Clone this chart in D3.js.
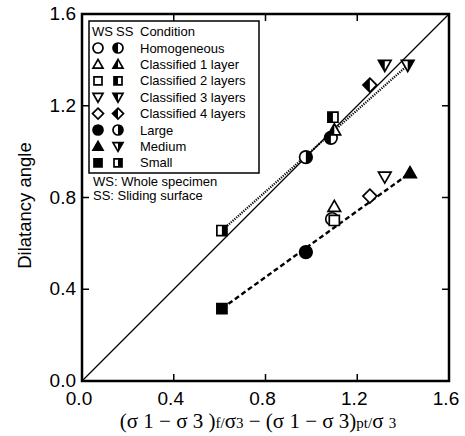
<html>
    <head>
       <script src="https://cdn.jsdelivr.net/npm/d3@7"></script>
       <style>
           body {
               margin:0;
               background-color:white
           }
           text {
               font-family:"Liberation Sans", Arial, sans-serif
           }
       </style>
    </head>
    <body>
        <svg id="Chart"></svg>
        <script>

            // conditions, in legend order
            let conditions = ["Homogeneous","Classified 1 layer","Classified 2 layers","Classified 3 layers",
                              "Classified 4 layers","Large","Medium","Small"]

            // WS = whole specimen
            let wsX = [1.09, 1.10, 1.10, 1.32, 1.255, 0.976, 1.43, 0.61]
            let wsY = [0.706, 0.76, 0.70, 0.89, 0.806, 0.562, 0.907, 0.316]

            // SS = sliding surface
            let ssX = [1.085, 1.10, 1.094, 1.32, 1.255, 0.976, 1.42, 0.61]
            let ssY = [1.06, 1.094, 1.15, 1.377, 1.29, 0.976, 1.377, 0.656]

            // fitted lines
            let fitWSX = [0.61, 1.43]
            let fitWSY = [0.316, 0.907]
            let fitSSX = [0.61, 1.42]
            let fitSSY = [0.656, 1.377]

            let ticks = [0.0, 0.4, 0.8, 1.2, 1.6]

            // marker shape and fill of each condition
            let wsShape = ["circle","triangle","square","triDown","diamond","circle","triangle","square"]
            let wsFill  = ["open","open","open","open","open","full","full","full"]
            let ssShape = ["circle","triangle","square","triDown","diamond","circle","triDown","square"]
            let ssFill  = ["left","left","left","left","left","right","right","right"]

            function getConfig() {
                let width = 465
                let height = 436
                let margin = { top: 14, bottom: 55, left: 82, right: 16 }

                let container = d3.select("#Chart")
                               .attr("width",width)
                               .attr("height",height)

                let xScale = d3.scaleLinear()
                            .domain([0,1.6])
                            .range([margin.left, width - margin.right])

                let yScale = d3.scaleLinear()
                            .domain([0,1.6])
                            .range([height - margin.bottom, margin.top])

                return { width, height, margin, container, xScale, yScale }
            }

            function circlePath(r) {
                let p = d3.path()
                p.arc(0,0,r,0,2*Math.PI)
                p.closePath()
                return p.toString()
            }

            function shapePath(shape, s) {
                if (shape == "circle") return circlePath(s)
                let pts
                if (shape == "square") pts = [[-s*0.8,-s*0.8],[s*0.8,-s*0.8],[s*0.8,s*0.8],[-s*0.8,s*0.8]]
                if (shape == "triangle") pts = [[0,-s],[s,s*0.75],[-s,s*0.75]]
                if (shape == "triDown") pts = [[-s,-s*0.75],[s,-s*0.75],[0,s]]
                if (shape == "diamond") pts = [[0,-s*1.1],[s*1.1,0],[0,s*1.1],[-s*1.1,0]]
                return "M" + pts.map(p => p.join(",")).join("L") + "Z"
            }

            function drawMarker(parent, x, y, shape, fill, s) {
                let g = parent.append("g")
                         .attr("transform",`translate(${x},${y})`)
                let d = shapePath(shape, s)

                g.append("path")
                 .attr("d", d)
                 .attr("fill", fill == "full" ? "black" : "white")

                if (fill == "left" || fill == "right") {
                    g.append("path")
                     .attr("d", d)
                     .attr("fill","black")
                     .attr("clip-path", fill == "left" ? "url(#clipLeft)" : "url(#clipRight)")
                }

                g.append("path")
                 .attr("d", d)
                 .attr("fill","none")
                 .attr("stroke","black")
                 .attr("stroke-width",1.7)
            }

            function drawAxes() {
                let { width, height, margin, container, xScale, yScale } = getConfig()
                let x0 = xScale(0), x1 = xScale(1.6), y0 = yScale(0), y1 = yScale(1.6)
                let tickLen = 7

                // inner ticks on all four sides
                let inner = ticks.slice(1, ticks.length - 1)
                inner.forEach(t => {
                    container.append("line").attr("x1",xScale(t)).attr("x2",xScale(t))
                             .attr("y1",y0).attr("y2",y0 - tickLen)
                    container.append("line").attr("x1",xScale(t)).attr("x2",xScale(t))
                             .attr("y1",y1).attr("y2",y1 + tickLen)
                    container.append("line").attr("y1",yScale(t)).attr("y2",yScale(t))
                             .attr("x1",x0).attr("x2",x0 + tickLen)
                    container.append("line").attr("y1",yScale(t)).attr("y2",yScale(t))
                             .attr("x1",x1).attr("x2",x1 - tickLen)
                })
                container.selectAll("line")
                         .attr("stroke","black")
                         .attr("stroke-width",1.5)

                container.append("rect")
                         .attr("x",x0).attr("y",y1)
                         .attr("width",x1 - x0).attr("height",y0 - y1)
                         .attr("fill","none")
                         .attr("stroke","black")
                         .attr("stroke-width",2.5)

                container.selectAll(".xtick")
                         .data(ticks)
                         .enter()
                         .append("text")
                           .attr("x", d => xScale(d) - 3)
                           .attr("y", y0 + 24)
                           .attr("text-anchor","middle")
                           .attr("font-size",19)
                           .text(d => d.toFixed(1))

                container.selectAll(".ytick")
                         .data(ticks)
                         .enter()
                         .append("text")
                           .attr("x", x0 - 6)
                           .attr("y", d => yScale(d) + 6)
                           .attr("text-anchor","end")
                           .attr("font-size",19)
                           .text(d => d.toFixed(1))

                container.append("text")
                         .attr("transform",`translate(31,${(y0 + y1)/2 + 8}) rotate(-90)`)
                         .attr("text-anchor","middle")
                         .attr("font-size",18.5)
                         .text("Dilatancy angle")

                let xl = container.append("text")
                         .attr("x",258)
                         .attr("y",428)
                         .attr("text-anchor","middle")
                         .style("font-family","'Liberation Serif', 'Times New Roman', serif")
                         .attr("font-size",21)
                xl.append("tspan").text("(σ 1 − σ 3 )")
                xl.append("tspan").attr("font-size",15).text("f/")
                xl.append("tspan").text("σ")
                xl.append("tspan").attr("font-size",15).text("3")
                xl.append("tspan").text(" − (σ 1 − σ 3)")
                xl.append("tspan").attr("font-size",15).text("pt/")
                xl.append("tspan").text("σ ")
                xl.append("tspan").attr("font-size",15).text("3")
            }

            function drawLines() {
                let { container, xScale, yScale } = getConfig()
                let line = d3.line()
                             .x(d => xScale(d[0]))
                             .y(d => yScale(d[1]))

                container.append("path")
                         .attr("d", line([[ticks[0],ticks[0]],[ticks[4],ticks[4]]]))
                         .attr("fill","none")
                         .attr("stroke","black")
                         .attr("stroke-width",1.2)

                container.append("path")
                         .attr("d", line(fitSSX.map((x,i) => [x, fitSSY[i]])))
                         .attr("fill","none")
                         .attr("stroke","black")
                         .attr("stroke-width",2.2)
                         .attr("stroke-dasharray","1.2,1.2")

                container.append("path")
                         .attr("d", line(fitWSX.map((x,i) => [x, fitWSY[i]])))
                         .attr("fill","none")
                         .attr("stroke","black")
                         .attr("stroke-width",2.4)
                         .attr("stroke-dasharray","5,3")
            }

            function drawPoints() {
                let { container, xScale, yScale } = getConfig()
                let g = container.append("g")
                conditions.forEach((c,i) => {
                    drawMarker(g, xScale(wsX[i]), yScale(wsY[i]), wsShape[i], wsFill[i], 6.3)
                })
                conditions.forEach((c,i) => {
                    drawMarker(g, xScale(ssX[i]), yScale(ssY[i]), ssShape[i], ssFill[i], 6.3)
                })
            }

            function drawLegend() {
                let { container } = getConfig()
                let legend = container.append("g")

                legend.append("rect")
                      .attr("x",89).attr("y",21)
                      .attr("width",170).attr("height",152)
                      .attr("fill","white")
                      .attr("stroke","black")
                      .attr("stroke-width",1.5)

                legend.append("text").attr("x",92).attr("y",36).attr("font-size",13).text("WS")
                legend.append("text").attr("x",116).attr("y",36).attr("font-size",13).text("SS")
                legend.append("text").attr("x",140).attr("y",36).attr("font-size",13).text("Condition")

                conditions.forEach((c,i) => {
                    let y = 52.5 + i * 16.4
                    drawMarker(legend, 98, y - 4.5, wsShape[i], wsFill[i], 5)
                    drawMarker(legend, 118, y - 4.5, ssShape[i], ssFill[i], 5)
                    legend.append("text")
                          .attr("x",140).attr("y",y)
                          .attr("font-size",13)
                          .text(c)
                })

                container.append("text").attr("x",93).attr("y",186).attr("font-size",13).text("WS: Whole specimen")
                container.append("text").attr("x",93).attr("y",200).attr("font-size",13).text("SS: Sliding surface")
            }

            function showChart() {
                let { container } = getConfig()
                let defs = container.append("defs")
                defs.append("clipPath").attr("id","clipLeft")
                    .append("rect").attr("x",-20).attr("y",-20).attr("width",20).attr("height",40)
                defs.append("clipPath").attr("id","clipRight")
                    .append("rect").attr("x",0).attr("y",-20).attr("width",20).attr("height",40)

                drawLines()
                drawAxes()
                drawPoints()
                drawLegend()
            }

            showChart()
        </script>
    </body>
</html>
